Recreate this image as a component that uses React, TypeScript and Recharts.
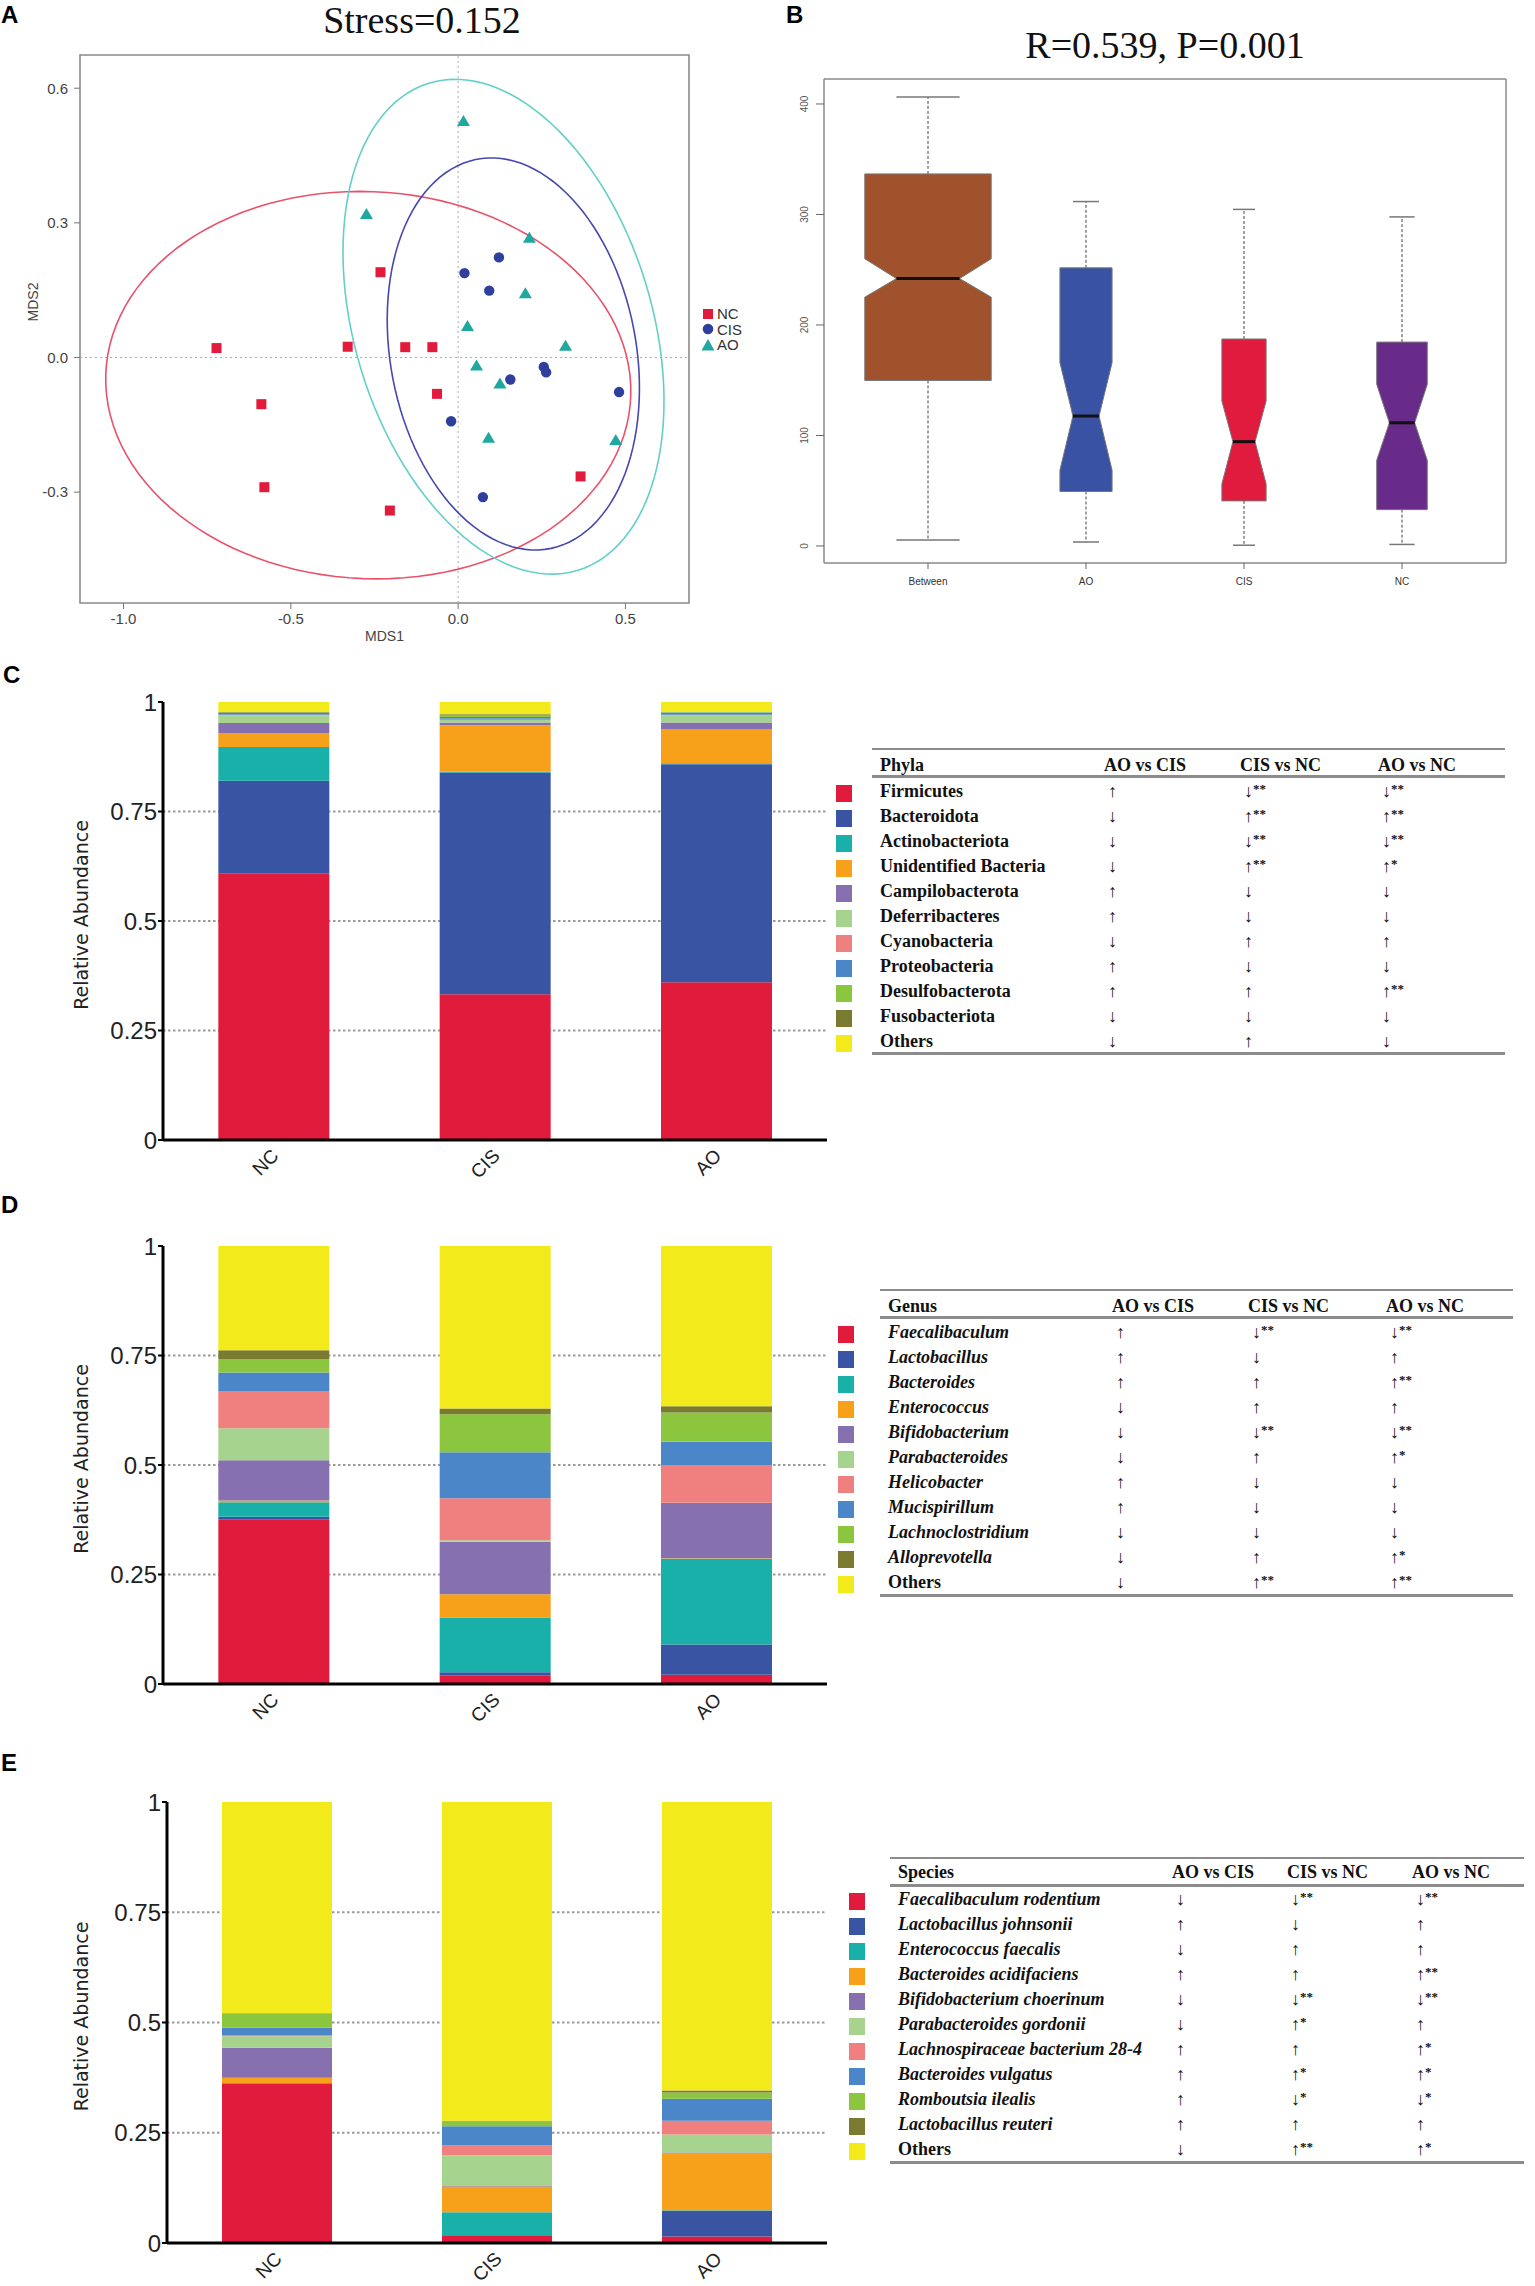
import React from 'react';
import {
  ScatterChart, Scatter, BarChart, Bar, XAxis, YAxis,
  ReferenceLine, ReferenceArea, CartesianGrid,
} from 'recharts';

const SANS = "'Liberation Sans', Arial, sans-serif";
const SERIF = "'Liberation Serif', 'Times New Roman', serif";
const DEJAVU = "'DejaVu Sans', Verdana, sans-serif";

// ---------------- Panel A: NMDS ----------------
const nmdsNC = [
  { x: -0.722, y: 0.021 }, { x: -0.588, y: -0.104 }, { x: -0.579, y: -0.289 },
  { x: -0.330, y: 0.024 }, { x: -0.232, y: 0.190 }, { x: -0.204, y: -0.341 },
  { x: -0.158, y: 0.023 }, { x: -0.077, y: 0.023 }, { x: -0.063, y: -0.081 },
  { x: 0.366, y: -0.265 },
];
const nmdsCIS = [
  { x: 0.019, y: 0.188 }, { x: 0.122, y: 0.223 }, { x: 0.093, y: 0.149 },
  { x: -0.021, y: -0.142 }, { x: 0.156, y: -0.049 }, { x: 0.256, y: -0.021 },
  { x: 0.263, y: -0.033 }, { x: 0.481, y: -0.077 }, { x: 0.074, y: -0.311 },
];
const nmdsAO = [
  { x: 0.016, y: 0.527 }, { x: -0.274, y: 0.320 }, { x: 0.213, y: 0.267 },
  { x: 0.201, y: 0.143 }, { x: 0.028, y: 0.070 }, { x: 0.321, y: 0.026 },
  { x: 0.055, y: -0.018 }, { x: 0.125, y: -0.058 }, { x: 0.091, y: -0.179 },
  { x: 0.471, y: -0.184 },
];
// confidence ellipses: centre and two conjugate semi-axis vectors (data units)
const ellipseNC = { cx: -0.2685, cy: -0.0616, ux: 0.7826, uy: -0.0449, vx: -0.0572, vy: -0.4293 };
const ellipseCIS = { cx: 0.165, cy: 0.0079, ux: 0.094, uy: -0.4355, vx: 0.365, vy: 0.0339 };
const ellipseAO = { cx: 0.1356, cy: 0.0686, ux: 0.2, uy: -0.547, vx: 0.436, vy: 0.0684 };
const nmdsXTicks = [-1, -0.5, 0, 0.5];
const nmdsYTicks = [-0.3, 0, 0.3, 0.6];
const nmdsXDomain = [-1.13, 0.69];
const nmdsYDomain = [-0.547, 0.674];

// ---------------- Panel B: ANOSIM boxplot ----------------
const boxGroups = ['Between', 'AO', 'CIS', 'NC'];
const boxWhiskerLow = [5.4, 3.6, 0.7, 1.4];
const boxQ1 = [149.8, 49.3, 40.8, 32.9];
const boxNotchLow = [225.2, 68.6, 56.1, 77.6];
const boxMedian = [242, 117.6, 94.4, 111.5];
const boxNotchHigh = [259.9, 165.9, 131.2, 146.2];
const boxQ3 = [336.7, 251.7, 187.3, 184.5];
const boxWhiskerHigh = [406.4, 311.7, 304.6, 297.8];
const boxRelWidth = [0.8, 0.33, 0.28, 0.32];
const boxYTicks = [0, 100, 200, 300, 400];
const boxYDomain = [-15.4, 422.6];

// ---------------- Panels C, D, E: relative abundance ----------------
const groupsCDE = ['NC', 'CIS', 'AO'];
const phylaNames = ['Firmicutes', 'Bacteroidota', 'Actinobacteriota', 'Unidentified Bacteria', 'Campilobacterota', 'Deferribacteres', 'Cyanobacteria', 'Proteobacteria', 'Desulfobacterota', 'Fusobacteriota', 'Others'];
const phylaNC = [0.608, 0.212, 0.077, 0.032, 0.023, 0.018, 0.001, 0.004, 0.001, 0.001, 0.023];
const phylaCIS = [0.333, 0.506, 0.002, 0.106, 0.006, 0.006, 0.003, 0.004, 0.003, 0.003, 0.028];
const phylaAO = [0.360, 0.498, 0.002, 0.077, 0.016, 0.017, 0.001, 0.005, 0.001, 0.001, 0.022];
const phylaArrows = [
  ['↑', '↓**', '↓**'], ['↓', '↑**', '↑**'], ['↓', '↓**', '↓**'], ['↓', '↑**', '↑*'],
  ['↑', '↓', '↓'], ['↑', '↓', '↓'], ['↓', '↑', '↑'], ['↑', '↓', '↓'],
  ['↑', '↑', '↑**'], ['↓', '↓', '↓'], ['↓', '↑', '↓'],
];

const genusNames = ['Faecalibaculum', 'Lactobacillus', 'Bacteroides', 'Enterococcus', 'Bifidobacterium', 'Parabacteroides', 'Helicobacter', 'Mucispirillum', 'Lachnoclostridium', 'Alloprevotella', 'Others'];
const genusNC = [0.375, 0.007, 0.033, 0.004, 0.092, 0.073, 0.085, 0.042, 0.031, 0.020, 0.238];
const genusCIS = [0.020, 0.007, 0.125, 0.053, 0.120, 0.003, 0.096, 0.105, 0.087, 0.013, 0.371];
const genusAO = [0.021, 0.069, 0.196, 0.001, 0.126, 0.001, 0.086, 0.053, 0.067, 0.014, 0.366];
const genusArrows = [
  ['↑', '↓**', '↓**'], ['↑', '↓', '↑'], ['↑', '↑', '↑**'], ['↓', '↑', '↑'],
  ['↓', '↓**', '↓**'], ['↓', '↑', '↑*'], ['↑', '↓', '↓'], ['↑', '↓', '↓'],
  ['↓', '↓', '↓'], ['↓', '↑', '↑*'], ['↓', '↑**', '↑**'],
];

const speciesNames = ['Faecalibaculum rodentium', 'Lactobacillus johnsonii', 'Enterococcus faecalis', 'Bacteroides acidifaciens', 'Bifidobacterium choerinum', 'Parabacteroides gordonii', 'Lachnospiraceae bacterium 28-4', 'Bacteroides vulgatus', 'Romboutsia ilealis', 'Lactobacillus reuteri', 'Others'];
const speciesNC = [0.361, 0.001, 0.001, 0.012, 0.068, 0.026, 0.002, 0.017, 0.032, 0.001, 0.479];
const speciesCIS = [0.017, 0.001, 0.052, 0.058, 0.001, 0.070, 0.022, 0.044, 0.011, 0.001, 0.723];
const speciesAO = [0.015, 0.058, 0.001, 0.130, 0.001, 0.041, 0.031, 0.050, 0.014, 0.005, 0.654];
const speciesArrows = [
  ['↓', '↓**', '↓**'], ['↑', '↓', '↑'], ['↓', '↑', '↑'], ['↑', '↑', '↑**'],
  ['↓', '↓**', '↓**'], ['↓', '↑*', '↑'], ['↑', '↑', '↑*'], ['↑', '↑*', '↑*'],
  ['↑', '↓*', '↓*'], ['↑', '↑', '↑'], ['↓', '↑**', '↑*'],
];
const compareHeaders = ['AO vs CIS', 'CIS vs NC', 'AO vs NC'];
const abundanceTicks = [0, 0.25, 0.5, 0.75, 1];

// ---------------- styles ----------------
const groupColors = { NC: '#E21A3B', CIS: '#2E3F9E', AO: '#1FA89F' };
const ellipseColors = { NC: '#E8536C', CIS: '#4747B0', AO: '#63CFC9' };
const boxColors = ['#A0522D', '#3A52A3', '#E01B3D', '#692B8A'];
const stackColors = ['#E01B3C', '#3A54A4', '#18B0A8', '#F7A11A', '#8670B0', '#A6D48E', '#F07F80', '#4A86C8', '#8CC63F', '#7A7A30', '#F2EA1A'];

function ellipsePoints(e: any) {
  const pts: any[] = [];
  const n = 120;
  for (let i = 0; i <= n; i++) {
    const t = (2 * Math.PI * i) / n;
    pts.push({ x: e.cx + e.ux * Math.cos(t) + e.vx * Math.sin(t), y: e.cy + e.uy * Math.cos(t) + e.vy * Math.sin(t) });
  }
  return pts;
}

const EmptyShape = () => <g />;
const SquareShape = (p: any) => <rect x={p.cx - 5} y={p.cy - 5} width={10} height={10} fill={groupColors.NC} />;
const CircleShape = (p: any) => <circle cx={p.cx} cy={p.cy} r={5.2} fill={groupColors.CIS} />;
const TriangleShape = (p: any) => (
  <polygon points={`${p.cx},${p.cy - 6} ${p.cx + 6.5},${p.cy + 5} ${p.cx - 6.5},${p.cy + 5}`} fill={groupColors.AO} />
);

function PanelA() {
  const axisTick = { fontSize: 15, fill: '#444', fontFamily: SANS };
  return (
    <div style={{ position: 'absolute', left: 0, top: 0 }}>
      <ScatterChart width={760} height={660} margin={{ top: 55, right: 71, bottom: 17, left: 0 }}>
        <XAxis
          type="number" dataKey="x" domain={nmdsXDomain} ticks={nmdsXTicks} allowDataOverflow
          tickFormatter={(v: number) => v.toFixed(1)} axisLine={false} tickLine={{ stroke: '#777' }}
          tickSize={6} tickMargin={4} height={40} tick={axisTick}
          label={{ content: (p: any) => (
            <text x={p.viewBox.x + p.viewBox.width / 2} y={p.viewBox.y + 38} textAnchor="middle" fontSize={14} fill="#444" fontFamily={SANS}>MDS1</text>
          ) }}
        />
        <YAxis
          type="number" dataKey="y" domain={nmdsYDomain} ticks={nmdsYTicks} allowDataOverflow
          tickFormatter={(v: number) => v.toFixed(1)} axisLine={false} tickLine={{ stroke: '#777' }}
          tickSize={6} tickMargin={6} width={80} tick={axisTick}
          label={{ content: (p: any) => {
            const x = 38, y = p.viewBox.y + p.viewBox.height / 2 - 27;
            return <text x={x} y={y} transform={`rotate(-90 ${x} ${y})`} textAnchor="middle" fontSize={14} fill="#444" fontFamily={SANS}>MDS2</text>;
          } }}
        />
        <ReferenceLine x={0} stroke="#aaa" strokeDasharray="2 3" />
        <ReferenceLine y={0} stroke="#aaa" strokeDasharray="2 3" />
        <Scatter data={ellipsePoints(ellipseNC)} fill={ellipseColors.NC} line={{ stroke: ellipseColors.NC, strokeWidth: 1.6 }} shape={EmptyShape} isAnimationActive={false} />
        <Scatter data={ellipsePoints(ellipseAO)} fill={ellipseColors.AO} line={{ stroke: ellipseColors.AO, strokeWidth: 1.6 }} shape={EmptyShape} isAnimationActive={false} />
        <Scatter data={ellipsePoints(ellipseCIS)} fill={ellipseColors.CIS} line={{ stroke: ellipseColors.CIS, strokeWidth: 1.6 }} shape={EmptyShape} isAnimationActive={false} />
        <Scatter data={nmdsNC} fill={groupColors.NC} shape={SquareShape} isAnimationActive={false} />
        <Scatter data={nmdsCIS} fill={groupColors.CIS} shape={CircleShape} isAnimationActive={false} />
        <Scatter data={nmdsAO} fill={groupColors.AO} shape={TriangleShape} isAnimationActive={false} />
        <ReferenceArea x1={nmdsXDomain[0]} x2={nmdsXDomain[1]} y1={nmdsYDomain[0]} y2={nmdsYDomain[1]} fill="none" fillOpacity={0} stroke="#8a8a8a" strokeWidth={1.6} ifOverflow="visible" />
      </ScatterChart>
      <div style={{ position: 'absolute', left: 702, top: 306, fontFamily: SANS, fontSize: 15, color: '#333', lineHeight: '15.5px' }}>
        {['NC', 'CIS', 'AO'].map((g) => (
          <div key={g} style={{ display: 'flex', alignItems: 'center', whiteSpace: 'nowrap' }}>
            <svg width={13} height={14} style={{ marginRight: 2 }}>
              {g === 'NC' && <rect x={1} y={2} width={10} height={10} fill={groupColors.NC} />}
              {g === 'CIS' && <circle cx={6} cy={7} r={5.3} fill={groupColors.CIS} />}
              {g === 'AO' && <polygon points="6,1 12.5,12.5 -0.5,12.5" fill={groupColors.AO} />}
            </svg>
            <span>{g}</span>
          </div>
        ))}
      </div>
    </div>
  );
}

const BoxShape = (props: any) => {
  const { x, y, width, height, payload } = props;
  const i = boxGroups.indexOf(payload.name);
  const top = Math.min(y, y + height);
  const h = Math.abs(height);
  const k = h / (payload.q3 - payload.q1);
  const py = (v: number) => top + (payload.q3 - v) * k;
  const cx = x + width / 2;
  const hw = (width * payload.rel) / 2;
  const nw = hw * 0.5;
  const pts = [
    [cx - hw, py(payload.q3)], [cx + hw, py(payload.q3)], [cx + hw, py(payload.nh)], [cx + nw, py(payload.med)],
    [cx + hw, py(payload.nl)], [cx + hw, py(payload.q1)], [cx - hw, py(payload.q1)], [cx - hw, py(payload.nl)],
    [cx - nw, py(payload.med)], [cx - hw, py(payload.nh)],
  ].map((p) => p.join(',')).join(' ');
  const cap = hw / 2;
  return (
    <g>
      <line x1={cx} x2={cx} y1={py(payload.q3)} y2={py(payload.whi)} stroke="#444" strokeWidth={1} strokeDasharray="3 2" />
      <line x1={cx} x2={cx} y1={py(payload.q1)} y2={py(payload.wlo)} stroke="#444" strokeWidth={1} strokeDasharray="3 2" />
      <line x1={cx - cap} x2={cx + cap} y1={py(payload.whi)} y2={py(payload.whi)} stroke="#777" strokeWidth={1.5} />
      <line x1={cx - cap} x2={cx + cap} y1={py(payload.wlo)} y2={py(payload.wlo)} stroke="#777" strokeWidth={1.5} />
      <polygon points={pts} fill={boxColors[i]} stroke="#777" strokeWidth={1} />
      <line x1={cx - nw} x2={cx + nw} y1={py(payload.med)} y2={py(payload.med)} stroke="#111" strokeWidth={3} />
    </g>
  );
};

const BoxYTick = (p: any) => (
  <text x={p.x} y={p.y} transform={`rotate(-90 ${p.x} ${p.y})`} textAnchor="middle" fontSize={10} fill="#555" fontFamily={SANS}>
    {p.payload.value}
  </text>
);

function PanelB() {
  const data = boxGroups.map((name, i) => ({
    name, range: [boxQ1[i], boxQ3[i]], q1: boxQ1[i], q3: boxQ3[i], med: boxMedian[i],
    nl: boxNotchLow[i], nh: boxNotchHigh[i], wlo: boxWhiskerLow[i], whi: boxWhiskerHigh[i], rel: boxRelWidth[i],
  }));
  return (
    <div style={{ position: 'absolute', left: 740, top: 0 }}>
      <BarChart width={795} height={660} data={data} margin={{ top: 78, right: 28, bottom: 57, left: 0 }} barCategoryGap={0}>
        <XAxis dataKey="name" padding={{ left: 25, right: 25 }} height={40} interval={0}
          axisLine={{ stroke: '#8a8a8a', strokeWidth: 1.5 }} tickLine={{ stroke: '#666' }} tickSize={6} tickMargin={9}
          tick={{ fontSize: 10, fill: '#333', fontFamily: SANS }} />
        <XAxis xAxisId="top" dataKey="name" orientation="top" padding={{ left: 25, right: 25 }} height={1}
          axisLine={{ stroke: '#8a8a8a', strokeWidth: 1.5 }} tickLine={false} tick={false} />
        <YAxis domain={boxYDomain} ticks={boxYTicks} allowDataOverflow width={84}
          axisLine={{ stroke: '#8a8a8a', strokeWidth: 1.5 }} tickLine={{ stroke: '#666' }} tickSize={8} tickMargin={8} tick={<BoxYTick />} />
        <YAxis yAxisId="right" orientation="right" domain={boxYDomain} allowDataOverflow width={1}
          axisLine={{ stroke: '#8a8a8a', strokeWidth: 1.5 }} tickLine={false} tick={false} />
        <Bar dataKey="range" shape={BoxShape} isAnimationActive={false} />
      </BarChart>
    </div>
  );
}

const GroupTick = (p: any) => {
  const ax = p.x + 6, ay = p.y + 17;
  return (
    <text x={ax} y={ay} transform={`rotate(-45 ${ax} ${ay})`} textAnchor="end" fontSize={19} fill="#222" fontFamily={SANS}>
      {p.payload.value}
    </text>
  );
};

function StackPanel({ rows, count, top, plotH, axisW }: any) {
  const data = groupsCDE.map((g, gi) => {
    const r: any = { group: g };
    for (let i = 0; i < count; i++) r['s' + i] = rows[gi][i];
    return r;
  });
  const marginTop = 30;
  return (
    <div style={{ position: 'absolute', left: 0, top: top - marginTop }}>
      <BarChart width={860} height={marginTop + plotH + 60} data={data} margin={{ top: marginTop, right: 33, bottom: 0, left: 0 }} barCategoryGap="25%">
        <CartesianGrid vertical={false} horizontalValues={[0.25, 0.5, 0.75]} stroke="#9a9a9a" strokeWidth={2} strokeDasharray="2.5 2.5" />
        <XAxis dataKey="group" height={60} interval={0} axisLine={{ stroke: '#000', strokeWidth: 3 }} tickLine={false}
          tickSize={0} tickMargin={0} tick={<GroupTick />} />
        <YAxis domain={[0, 1]} ticks={abundanceTicks} allowDataOverflow width={axisW}
          axisLine={{ stroke: '#000', strokeWidth: 3 }} tickLine={{ stroke: '#000', strokeWidth: 2 }} tickSize={5} tickMargin={1}
          tick={{ fontSize: 24, fill: '#222', fontFamily: SANS }}
          label={{ content: (p: any) => {
            const x = 88, y = p.viewBox.y + p.viewBox.height / 2 - 6;
            return <text x={x} y={y} transform={`rotate(-90 ${x} ${y})`} textAnchor="middle" fontSize={19} fill="#222" fontFamily={DEJAVU}>Relative Abundance</text>;
          } }}
        />
        {Array.from({ length: count }).map((_, i) => (
          <Bar key={i} dataKey={'s' + i} stackId="a" fill={stackColors[i]} isAnimationActive={false} />
        ))}
      </BarChart>
    </div>
  );
}

function Arrow({ v }: { v: string }) {
  const arrow = v.charAt(0);
  const stars = v.slice(1);
  return (
    <span>
      <span style={{ fontWeight: 'normal' }}>{arrow}</span>
      {stars && <span style={{ fontSize: 13, position: 'relative', top: -4 }}>{stars}</span>}
    </span>
  );
}

function StatTable({ title, names, arrows, italic, L }: any) {
  const rowY = (i: number) => L.firstRow + i * 25;
  const txt = (center: number, left: number, content: any, extra: any = {}) => (
    <div style={{
      position: 'absolute', left, top: center - 11, height: 22, lineHeight: '22px', fontFamily: SERIF,
      fontSize: 18, fontWeight: 'bold', color: '#111', whiteSpace: 'nowrap', ...extra,
    }}>{content}</div>
  );
  const rule = (y: number, t: number) => (
    <div style={{ position: 'absolute', left: L.left, top: y - t / 2, width: L.right - L.left, height: t, background: '#8c8c8c' }} />
  );
  return (
    <>
      {rule(L.top, 2)}
      {rule(L.headerRule, 3)}
      {rule(L.bottom, 3)}
      {txt(L.header, L.nameX, title)}
      {compareHeaders.map((h, j) => <React.Fragment key={h}>{txt(L.header, L.colX[j], h)}</React.Fragment>)}
      {names.map((n: string, i: number) => (
        <React.Fragment key={n}>
          <div style={{ position: 'absolute', left: L.squareX, top: rowY(i) + 2 - 8.5, width: 16, height: 17, background: stackColors[i] }} />
          {txt(rowY(i), L.nameX, n, { fontStyle: italic && n !== 'Others' ? 'italic' : 'normal' })}
          {arrows[i].map((a: string, j: number) => <React.Fragment key={j}>{txt(rowY(i), L.colX[j] + 4, <Arrow v={a} />)}</React.Fragment>)}
        </React.Fragment>
      ))}
    </>
  );
}

const panelLetter = (ch: string, left: number, baseline: number) => (
  <div style={{ position: 'absolute', left, top: baseline - 22, fontFamily: SANS, fontWeight: 'bold', fontSize: 24, lineHeight: '26px', color: '#000' }}>{ch}</div>
);

export default function App() {
  return (
    <div style={{ position: 'absolute', left: 0, top: 0, width: 1535, height: 2286, background: '#fff', overflow: 'hidden' }}>
      {panelLetter('A', 1, 24)}
      {panelLetter('B', 786, 24)}
      {panelLetter('C', 3, 684)}
      {panelLetter('D', 1, 1214)}
      {panelLetter('E', 1, 1772)}
      <div style={{ position: 'absolute', left: 222, width: 400, top: 0, textAlign: 'center', fontFamily: SERIF, fontSize: 38, lineHeight: '40px', color: '#111' }}>Stress=0.152</div>
      <div style={{ position: 'absolute', left: 965, width: 400, top: 25, textAlign: 'center', fontFamily: SERIF, fontSize: 38, lineHeight: '40px', color: '#111' }}>R=0.539, P=0.001</div>
      <PanelA />
      <PanelB />
      <StackPanel rows={[phylaNC, phylaCIS, phylaAO]} count={phylaNames.length} top={702} plotH={438} axisW={163} />
      <StackPanel rows={[genusNC, genusCIS, genusAO]} count={genusNames.length} top={1246} plotH={438} axisW={163} />
      <StackPanel rows={[speciesNC, speciesCIS, speciesAO]} count={speciesNames.length} top={1802} plotH={441} axisW={167} />
      <StatTable title="Phyla" names={phylaNames} arrows={phylaArrows} italic={false}
        L={{ top: 749, header: 765, headerRule: 776, firstRow: 791, bottom: 1053, left: 872, right: 1505, nameX: 880, colX: [1104, 1240, 1378], squareX: 836 }} />
      <StatTable title="Genus" names={genusNames} arrows={genusArrows} italic={true}
        L={{ top: 1290, header: 1306, headerRule: 1317, firstRow: 1332, bottom: 1595, left: 880, right: 1513, nameX: 888, colX: [1112, 1248, 1386], squareX: 838 }} />
      <StatTable title="Species" names={speciesNames} arrows={speciesArrows} italic={true}
        L={{ top: 1858, header: 1872, headerRule: 1885, firstRow: 1899, bottom: 2162, left: 890, right: 1524, nameX: 898, colX: [1172, 1287, 1412], squareX: 849 }} />
    </div>
  );
}
